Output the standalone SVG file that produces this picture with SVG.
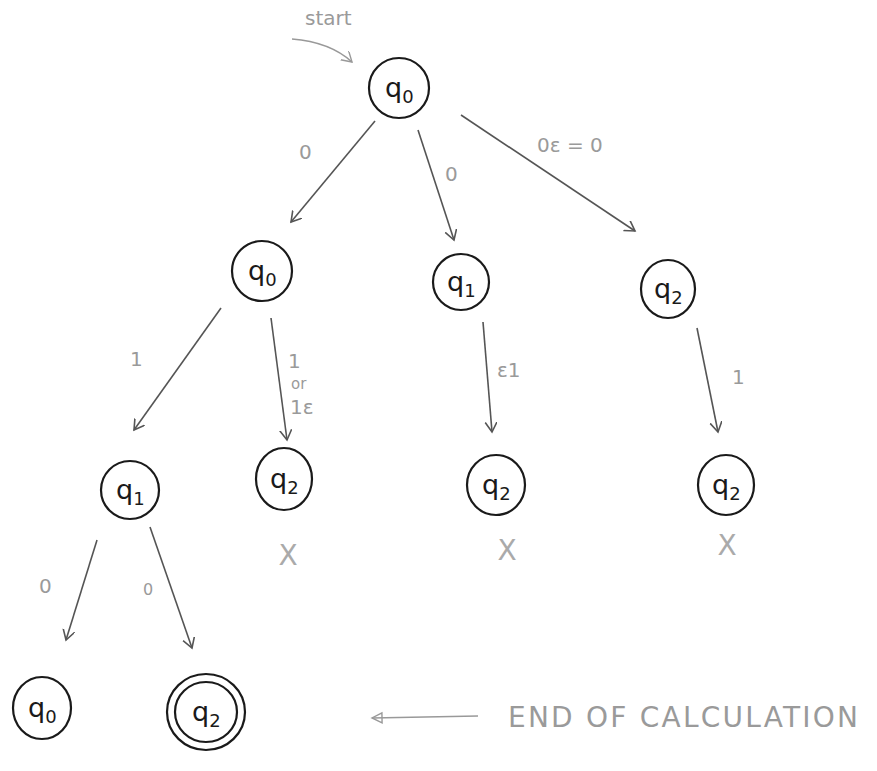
<svg xmlns="http://www.w3.org/2000/svg" width="877" height="771" viewBox="0 0 877 771">
<style>
.node{fill:none;stroke:#1a1a1a;stroke-width:2.2}
.nt{font-family:"DejaVu Sans","Liberation Sans",sans-serif;font-size:27px;fill:#1a1a1a}
.sub{font-size:18px}
.edge{fill:none;stroke:#555;stroke-width:1.6;marker-end:url(#ah)}
.lbl{font-family:"DejaVu Sans","Liberation Sans",sans-serif;font-size:20px;fill:#9a9a9a}
.x{font-family:"DejaVu Sans","Liberation Sans",sans-serif;font-size:28px;fill:#aaa;text-anchor:middle}
</style>
<defs>
<marker id="ah" markerWidth="14" markerHeight="14" refX="10" refY="6" orient="auto" markerUnits="userSpaceOnUse">
<path d="M0,0 L10,6 L0,12" fill="none" stroke="#555" stroke-width="1.6"/>
</marker>
<marker id="ah2" markerWidth="14" markerHeight="14" refX="11" refY="6" orient="auto" markerUnits="userSpaceOnUse">
<path d="M1,1 L11,6 L1,11 Z" fill="none" stroke="#999" stroke-width="1.4"/>
</marker>
<marker id="ah3" markerWidth="14" markerHeight="14" refX="10" refY="6" orient="auto" markerUnits="userSpaceOnUse">
<path d="M0,0 L10,6 L0,12" fill="none" stroke="#999" stroke-width="1.4"/>
</marker>
</defs>

<g id="start">
<text x="305" y="25" class="lbl">start</text>
<path d="M292,39 Q330,42 352,62" fill="none" stroke="#999" stroke-width="1.4" marker-end="url(#ah3)"/>
</g>

<g id="connectors">
<line class="edge" x1="375" y1="121" x2="291" y2="222"/>
<line class="edge" x1="418" y1="130" x2="454" y2="240"/>
<line class="edge" x1="461" y1="115" x2="635" y2="231"/>
<line class="edge" x1="221" y1="308" x2="134" y2="430"/>
<line class="edge" x1="271" y1="318" x2="287" y2="440"/>
<line class="edge" x1="483" y1="322" x2="492" y2="432"/>
<line class="edge" x1="697" y1="328" x2="718" y2="432"/>
<line class="edge" x1="97" y1="540" x2="66" y2="640"/>
<line class="edge" x1="150" y1="527" x2="192" y2="648"/>
</g>

<g id="edge-labels">
<text class="lbl" x="299" y="159">0</text>
<text class="lbl" x="445" y="181">0</text>
<text class="lbl" x="537" y="152">0ε = 0</text>
<text class="lbl" x="130" y="366">1</text>
<text class="lbl" x="288" y="368">1</text>
<text class="lbl" x="291" y="389" style="font-size:15px">or</text>
<text class="lbl" x="290" y="414">1ε</text>
<text class="lbl" x="497" y="377">ε1</text>
<text class="lbl" x="732" y="384">1</text>
<text class="lbl" x="39" y="593">0</text>
<text class="lbl" x="143" y="595" style="font-size:16px">0</text>
</g>

<g id="n0"><ellipse class="node" cx="399" cy="88" rx="30" ry="30"/><text class="nt" x="385" y="97">q<tspan class="sub" dy="6">0</tspan></text></g>
<g id="n1"><ellipse class="node" cx="262" cy="271" rx="30" ry="30"/><text class="nt" x="248" y="280">q<tspan class="sub" dy="6">0</tspan></text></g>
<g id="n2"><ellipse class="node" cx="461" cy="282" rx="28" ry="28"/><text class="nt" x="447" y="291">q<tspan class="sub" dy="6">1</tspan></text></g>
<g id="n3"><ellipse class="node" cx="668" cy="289" rx="27" ry="29"/><text class="nt" x="654" y="298">q<tspan class="sub" dy="6">2</tspan></text></g>
<g id="n4"><ellipse class="node" cx="130" cy="490" rx="29" ry="29"/><text class="nt" x="116" y="499">q<tspan class="sub" dy="6">1</tspan></text></g>
<g id="n5"><ellipse class="node" cx="284" cy="479" rx="28" ry="31"/><text class="nt" x="270" y="488">q<tspan class="sub" dy="6">2</tspan></text></g>
<g id="n6"><ellipse class="node" cx="496" cy="485" rx="29" ry="30"/><text class="nt" x="482" y="494">q<tspan class="sub" dy="6">2</tspan></text></g>
<g id="n7"><ellipse class="node" cx="726" cy="485" rx="28" ry="30"/><text class="nt" x="712" y="494">q<tspan class="sub" dy="6">2</tspan></text></g>
<g id="n8"><ellipse class="node" cx="42" cy="708" rx="29" ry="31"/><text class="nt" x="28" y="717">q<tspan class="sub" dy="6">0</tspan></text></g>
<g id="n9"><ellipse class="node" cx="206" cy="712" rx="39" ry="38"/><ellipse class="node" cx="206" cy="712" rx="31" ry="30"/><text class="nt" x="192" y="721">q<tspan class="sub" dy="6">2</tspan></text></g>

<g id="x-marks">
<text class="x" x="288" y="565">X</text>
<text class="x" x="507" y="560">X</text>
<text class="x" x="727" y="555">X</text>
</g>

<g id="end-note">
<line x1="478" y1="716" x2="372" y2="718" stroke="#999" stroke-width="1.4" marker-end="url(#ah2)"/>
<text class="lbl" x="508" y="727" style="font-size:28px" textLength="350" lengthAdjust="spacing">END OF CALCULATION</text>
</g>
</svg>
